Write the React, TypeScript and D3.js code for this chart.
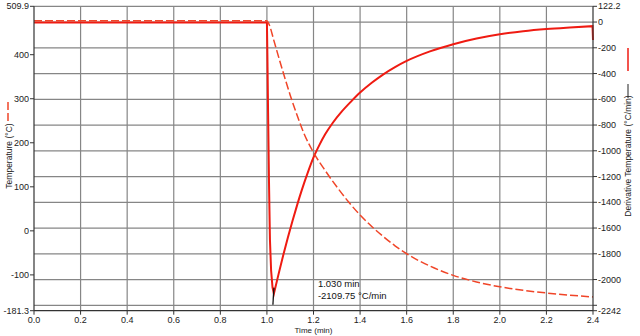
import * as d3 from 'd3';

// time axis ticks (min)
const timeTicks = [0, 0.2, 0.4, 0.6, 0.8, 1.0, 1.2, 1.4, 1.6, 1.8, 2.0, 2.2, 2.4];
const tempTicks = [509.9, 400, 300, 200, 100, 0, -100, -181.3];
const derivTicks = [122.2, 0, -200, -400, -600, -800, -1000, -1200, -1400, -1600, -1800, -2000, -2200, -2242];
const derivGrid = [0, -200, -400, -600, -800, -1000, -1200, -1400, -1600, -1800, -2000, -2200];

// Temperature (°C), dashed, left axis
const tempTime = [0, 1.0, 1.01, 1.03, 1.054, 1.08, 1.1, 1.13, 1.16, 1.2, 1.25, 1.3, 1.35, 1.4, 1.45, 1.5, 1.55, 1.6, 1.7, 1.8, 1.9, 2.0, 2.1, 2.2, 2.3, 2.4];
const tempValue = [477, 477, 468, 432, 388, 342, 308, 262, 220, 178, 137, 100, 66, 36, 10, -13, -34, -52, -80, -101, -116, -127, -135, -141, -146, -150];

// Derivative temperature (°C/min), solid, right axis — drop to the minimum
const dropTime = [0, 0.5, 1.0, 1.002, 1.005, 1.009, 1.013, 1.018, 1.024];
const dropValue = [-4, -4, -4, -250, -700, -1250, -1690, -1930, -2060];
// recovery from the minimum
const riseTime = [1.03, 1.05, 1.07, 1.09, 1.11, 1.13, 1.15, 1.175, 1.2, 1.225, 1.25, 1.283, 1.32, 1.36, 1.4, 1.45, 1.5, 1.55, 1.6, 1.7, 1.8, 1.9, 2.0, 2.1, 2.2, 2.3, 2.398];
const riseValue = [-2109.75, -1958, -1812, -1674, -1544, -1420, -1304, -1172, -1052, -956, -872, -782, -698, -620, -548, -472, -406, -350, -302, -228, -172, -128, -95, -71, -54, -42, -32];
const endTime = [2.398, 2.4];
const endValue = [-32, -140];

const minTime = 1.03;
const minValue = -2109.75;

const W = 640;
const H = 336;
const left = 34;
const right = 593;
const top = 6.3;
const bottom = 310.7;

const font = '"Liberation Sans", Arial, sans-serif';

export default function App() {
  const x = d3.scaleLinear().domain([0, 2.4]).range([left, right]);
  const yT = d3.scaleLinear().domain([-181.3, 509.9]).range([bottom, top]);
  const yD = d3.scaleLinear().domain([-2242, 122.2]).range([bottom, top]);

  const tempLine = d3.line<number>()
    .x((_, i) => x(tempTime[i]))
    .y(d => yT(d))
    .curve(d3.curveMonotoneX);

  const dropPath = d3.line<number>().x((_, i) => x(dropTime[i])).y(d => yD(d))(dropValue) || '';
  const risePath = d3.line<number>().x((_, i) => x(riseTime[i])).y(d => yD(d)).curve(d3.curveMonotoneX)(riseValue) || '';
  const endPath = d3.line<number>().x((_, i) => x(endTime[i])).y(d => yD(d))(endValue) || '';
  // one subpath so the tip at the minimum gets a sharp join
  const derivPath = dropPath + 'L' + risePath.slice(1) + 'L' + endPath.slice(1).split('L')[1];

  const grid = '#868686';
  const axis = '#333';
  const red = '#ef1b12';
  const dashRed = '#f04528';

  return (
    <svg width={W} height={H} style={{ position: 'absolute', left: 0, top: 0, background: '#fff' }}>
      {/* grid */}
      <line x1={left} x2={right} y1={top} y2={top} stroke={grid} strokeWidth={1.2} />
      {derivGrid.map(v => (
        <line key={'h' + v} x1={left} x2={right} y1={yD(v)} y2={yD(v)} stroke={grid} strokeWidth={1.2} />
      ))}
      {timeTicks.slice(1, -1).map(t => (
        <line key={'v' + t} x1={x(t)} x2={x(t)} y1={top} y2={bottom} stroke={grid} strokeWidth={1.2} />
      ))}

      {/* series */}
      <path d={derivPath} fill="none" stroke={red} strokeWidth={2} strokeLinejoin="miter" strokeMiterlimit={6} />
      <path d={tempLine(tempValue) || ''} fill="none" stroke={dashRed} strokeWidth={1.5} strokeDasharray="8,3" />

      {/* axes */}
      <line x1={left} x2={left} y1={top} y2={bottom} stroke={axis} strokeWidth={1.2} />
      <line x1={right} x2={right} y1={top} y2={bottom} stroke={axis} strokeWidth={1.2} />
      <line x1={left} x2={right} y1={bottom} y2={bottom} stroke={axis} strokeWidth={1.2} />

      <g fontFamily={font} fontSize={9} fill="#222">
        {tempTicks.map(v => (
          <g key={'lt' + v}>
            <line x1={left - 4} x2={left} y1={yT(v)} y2={yT(v)} stroke={axis} />
            <text x={left - 5} y={yT(v)} dy="0.35em" textAnchor="end">{v}</text>
          </g>
        ))}
        {derivTicks.map(v => (
          <g key={'rt' + v}>
            <line x1={right} x2={right + 4} y1={yD(v)} y2={yD(v)} stroke={axis} />
            {v !== -2200 && (
              <text x={right + 5} y={yD(v)} dy="0.35em" textAnchor="start">{v}</text>
            )}
          </g>
        ))}
        {timeTicks.map(t => (
          <g key={'bt' + t}>
            <line x1={x(t)} x2={x(t)} y1={bottom} y2={bottom + 4} stroke={axis} />
            <text x={x(t)} y={bottom + 12} textAnchor="middle">{t.toFixed(1)}</text>
          </g>
        ))}
        <text x={(left + right) / 2} y={H - 3} textAnchor="middle" fontSize={8}>Time (min)</text>
        <text transform={`translate(12,156) rotate(-90)`} textAnchor="middle" fontSize={8.5}>Temperature (°C)</text>
        <text transform={`translate(631,156) rotate(-90)`} textAnchor="middle" fontSize={8.5}>Derivative Temperature (°C/min)</text>
      </g>

      {/* axis title legend samples */}
      <line x1={8} x2={8} y1={102} y2={121} stroke={dashRed} strokeWidth={1.5} strokeDasharray="8,3" />
      <line x1={628} x2={628} y1={48} y2={71} stroke={red} strokeWidth={1.5} />
      <line x1={628} x2={628} y1={84} y2={98} stroke="#222" strokeWidth={1} />

      {/* cursor annotation */}
      <line x1={x(minTime)} x2={x(minTime) - 1} y1={yD(minValue) - 6} y2={yD(minValue) + 11} stroke="#111" strokeWidth={1.3} />
      <g fontFamily={font} fontSize={9.5} fill="#111">
        <text x={x(minTime) + 44} y={yD(minValue) - 7}>1.030 min</text>
        <text x={x(minTime) + 44} y={yD(minValue) + 5}>-2109.75 °C/min</text>
      </g>
    </svg>
  );
}
